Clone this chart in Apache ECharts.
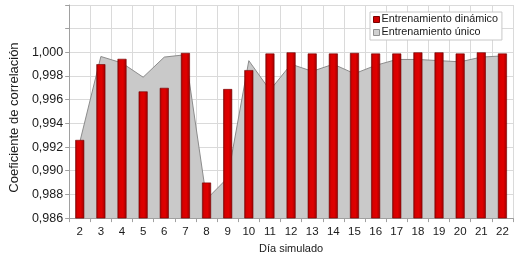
<!DOCTYPE html>
<html>
<head>
<meta charset="utf-8">
<script src="https://cdn.jsdelivr.net/npm/echarts@6/dist/echarts.min.js"></script>
<style>html,body{margin:0;padding:0;background:#fff}#c{width:515px;height:259px}</style>
</head>
<body>
<div id="c"></div>
<script>
const days = ['2','3','4','5','6','7','8','9','10','11','12','13','14','15','16','17','18','19','20','21','22'];
const dinamico = [0.9926,0.9990,0.99945,0.9967,0.9970,0.99995,0.9890,0.9969,0.9985,0.9999,1.0000,0.9999,0.9999,0.99995,0.9999,0.9999,1.0000,1.0000,0.9999,1.0000,0.9999];
const unico = [0.9924,0.99965,0.9991,0.9979,0.9996,0.9998,0.9876,0.9894,0.9993,0.9968,0.9990,0.9984,0.9990,0.9982,0.9989,0.9994,0.9994,0.9993,0.9992,0.9996,0.9997];
const yMin = 0.986, yMax = 1.004, yStep = 0.002;

const FONT = "'Liberation Sans',Arial,sans-serif";
const chart = echarts.init(document.getElementById('c'), null, {renderer:'canvas'});
chart.setOption({
  animation:false,
  backgroundColor:'#fff',
  grid:{left:50, right:2, top:5, bottom:35},
  legend:{
    orient:'vertical', left:370, top:12,
    padding:[2,4,2,3], itemGap:2, itemWidth:6, itemHeight:6,
    backgroundColor:'#fff', borderColor:'#c8c8c8', borderWidth:1,
    textStyle:{fontFamily:FONT, fontSize:10.8, color:'#1a1a1a', padding:[0,0,0,-3]},
    data:[
      {name:'Entrenamiento dinámico', icon:'rect', itemStyle:{color:'#d00000', borderColor:'#7a0000', borderWidth:1}},
      {name:'Entrenamiento único', icon:'rect', itemStyle:{color:'#d0d0d0', borderColor:'#909090', borderWidth:1}}
    ]
  },
  xAxis:{
    type:'category', data:days, boundaryGap:true,
    name:'Día simulado', nameLocation:'middle', nameGap:22,
    nameTextStyle:{fontFamily:FONT, fontSize:11, color:'#1a1a1a'},
    axisLine:{lineStyle:{color:'#a0a0a0'}},
    axisTick:{show:true, length:4, interval:0, lineStyle:{color:'#a0a0a0'}},
    axisLabel:{fontFamily:FONT, fontSize:11.5, color:'#1a1a1a', margin:8, interval:0},
    splitLine:{show:true, interval:0, lineStyle:{color:'#dadada', width:1}}
  },
  yAxis:{
    type:'value', min:yMin, max:yMax, interval:yStep,
    name:'Coeficiente de correlación', nameLocation:'middle', nameGap:42,
    nameTextStyle:{fontFamily:FONT, fontSize:13, color:'#1a1a1a', padding:[0,12,0,0]},
    axisLine:{show:true, lineStyle:{color:'#a0a0a0'}},
    axisTick:{show:true, length:4, lineStyle:{color:'#a0a0a0'}},
    axisLabel:{fontFamily:FONT, fontSize:12.5, color:'#1a1a1a', margin:6,
      formatter:function(v){ return v > 1.0001 ? '' : v.toFixed(3).replace('.', ','); }},
    splitLine:{show:true, lineStyle:{color:'#dadada', width:1}}
  },
  series:[
    {
      name:'Entrenamiento único', type:'line', data:unico, symbol:'none', z:1,
      lineStyle:{color:'#8c8c8c', width:1},
      itemStyle:{color:'#d0d0d0'},
      areaStyle:{color:'#c9c9c9', opacity:1, origin:'start'}
    },
    {
      name:'Entrenamiento dinámico', type:'bar', data:dinamico, barWidth:9, z:3,
      itemStyle:{
        color:new echarts.graphic.LinearGradient(0,0,1,0,[
          {offset:0,color:'#9c0000'},{offset:0.25,color:'#d80000'},
          {offset:0.6,color:'#e00000'},{offset:1,color:'#a00000'}]),
        borderColor:'#6e0000', borderWidth:0.6
      }
    }
  ]
});
</script>
</body>
</html>
